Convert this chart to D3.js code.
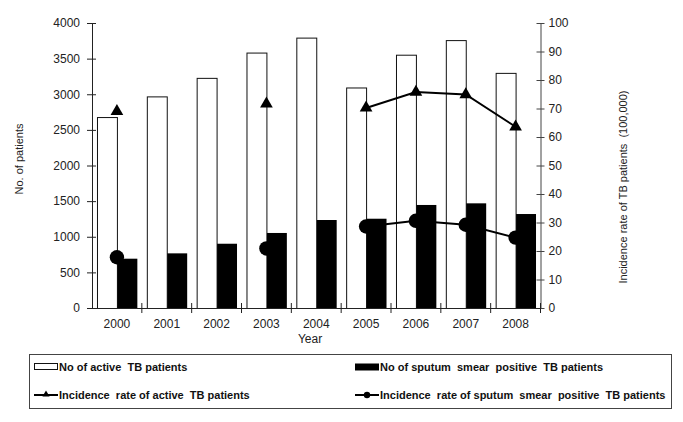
<!DOCTYPE html>
<html>
<head>
<meta charset="utf-8">
<script src="https://cdn.jsdelivr.net/npm/d3@7"></script>
<style>
  body { margin: 0; background: #fff; }
  svg { display: block; font-family: Arial, "Liberation Sans", sans-serif; }
</style>
</head>
<body>
<svg id="chart"></svg>
<script>
const width = 683;
const height = 422;

const years = ["2000", "2001", "2002", "2003", "2004", "2005", "2006", "2007", "2008"];
const activePatients = [2680, 2970, 3230, 3585, 3795, 3095, 3555, 3760, 3300];
const smearPatients = [692, 767, 902, 1053, 1235, 1253, 1446, 1469, 1319];
// incidence per 100,000 (null = no point)
const activeRate = [69, null, null, 71.6, null, 70.2, 75.8, 74.9, 63.6];
const smearRate = [17.8, null, null, 20.9, null, 28.6, 30.6, 29.2, 24.7];
const leftTicks = [0, 500, 1000, 1500, 2000, 2500, 3000, 3500, 4000];
const rightTicks = [0, 10, 20, 30, 40, 50, 60, 70, 80, 90, 100];

const svg = d3.select("#chart").attr("width", width).attr("height", height);

const plotLeft = 92, plotRight = 540.5, plotTop = 23, plotBottom = 308;

const x = d3.scaleBand().domain(years).range([plotLeft, plotRight]).paddingInner(0).paddingOuter(0);
const x1 = d3.scaleBand().domain(["active", "smear"]).range([0, x.bandwidth()])
  .paddingInner(0).paddingOuter(0.25);
const yL = d3.scaleLinear().domain([0, 4000]).range([plotBottom, plotTop]);
const yR = d3.scaleLinear().domain([0, 100]).range([plotBottom, plotTop]);

const rows = years.map((y, i) => ({
  year: y, active: activePatients[i], smear: smearPatients[i],
  aRate: activeRate[i], sRate: smearRate[i]
}));

// Bars
const groups = svg.selectAll(".grp").data(rows).enter().append("g")
  .attr("transform", d => `translate(${x(d.year)},0)`);

groups.append("rect")
  .attr("x", x1("active") + 0.5)
  .attr("y", d => yL(d.active) + 0.5)
  .attr("width", x1.bandwidth())
  .attr("height", d => plotBottom - yL(d.active))
  .attr("fill", "#fff").attr("stroke", "#111").attr("stroke-width", 1);

groups.append("rect")
  .attr("x", x1("smear") + 0.5)
  .attr("y", d => yL(d.smear))
  .attr("width", x1.bandwidth())
  .attr("height", d => plotBottom - yL(d.smear))
  .attr("fill", "#000");

// Axes
const fontFam = "Arial, 'Liberation Sans', sans-serif";
const axL = svg.append("g").attr("transform", `translate(${plotLeft},0)`)
  .call(d3.axisLeft(yL).tickValues(leftTicks).tickFormat(d3.format("d"))
    .tickSizeOuter(0).tickSizeInner(5).tickPadding(7));
axL.selectAll(".tick line").attr("x1", 4);
axL.select(".domain").attr("stroke", "#222");
axL.selectAll(".tick line").attr("stroke", "#222");
axL.selectAll("text").attr("font-size", "12px").attr("fill", "#222").attr("font-family", fontFam);

const axR = svg.append("g").attr("transform", `translate(${plotRight},0)`)
  .call(d3.axisRight(yR).tickValues(rightTicks).tickFormat(d3.format("d"))
    .tickSizeOuter(0).tickSizeInner(4).tickPadding(4));
axR.selectAll(".tick line").attr("x1", -4);
axR.select(".domain").attr("stroke", "#444");
axR.selectAll(".tick line").attr("stroke", "#444");
axR.selectAll("text").attr("font-size", "12px").attr("fill", "#222").attr("font-family", fontFam);

const axX = svg.append("g").attr("transform", `translate(0,${plotBottom})`)
  .call(d3.axisBottom(x).tickSize(0).tickPadding(11));
axX.select(".domain").attr("stroke", "#222");
axX.selectAll("text").attr("font-size", "12px").attr("fill", "#222").attr("font-family", fontFam);
// boundary ticks between years
const bounds = years.slice(1).map(y => x(y)).concat([plotRight]);
axX.selectAll(".bt").data(bounds).enter().append("line")
  .attr("x1", d => d).attr("x2", d => d).attr("y1", -5).attr("y2", 5)
  .attr("stroke", "#222");

// Lines
const lineA = d3.line().defined(d => d.aRate != null)
  .x(d => x(d.year) + x.bandwidth() / 2).y(d => yR(d.aRate));
const lineS = d3.line().defined(d => d.sRate != null)
  .x(d => x(d.year) + x.bandwidth() / 2).y(d => yR(d.sRate));

svg.append("path").datum(rows).attr("d", lineA)
  .attr("fill", "none").attr("stroke", "#000").attr("stroke-width", 2);
svg.append("path").datum(rows).attr("d", lineS)
  .attr("fill", "none").attr("stroke", "#000").attr("stroke-width", 2);

const tri = d3.symbol().type(d3.symbolTriangle).size(70);
svg.selectAll(".tri").data(rows.filter(d => d.aRate != null)).enter().append("path")
  .attr("d", tri)
  .attr("transform", d => `translate(${x(d.year) + x.bandwidth() / 2},${yR(d.aRate)})`)
  .attr("fill", "#000");

svg.selectAll(".dot").data(rows.filter(d => d.sRate != null)).enter().append("circle")
  .attr("cx", d => x(d.year) + x.bandwidth() / 2)
  .attr("cy", d => yR(d.sRate))
  .attr("r", 7.2).attr("fill", "#000");

// Axis titles
svg.append("text").attr("transform", "translate(23,159) rotate(-90)")
  .attr("text-anchor", "middle").attr("font-size", "11px").attr("fill", "#222")
  .text("No. of patients");
svg.append("text").attr("transform", "translate(627,187) rotate(-90)")
  .attr("text-anchor", "middle").attr("font-size", "11px").attr("fill", "#222")
  .style("white-space", "pre")
  .text("Incidence rate of TB patients  (100,000)");
svg.append("text").attr("x", 310).attr("y", 343)
  .attr("text-anchor", "middle").attr("font-size", "12px").attr("fill", "#222")
  .text("Year");

// Legend
const lg = svg.append("g");
lg.append("rect").attr("x", 29.5).attr("y", 354.5).attr("width", 642).attr("height", 54)
  .attr("fill", "#fff").attr("stroke", "#444").attr("stroke-width", 1);

const legendItems = [
  { label: "No of active  TB patients", kind: "white", x: 34, y: 367 },
  { label: "No of sputum  smear  positive  TB patients", kind: "black", x: 355, y: 367 },
  { label: "Incidence  rate of active  TB patients", kind: "tri", x: 34, y: 395 },
  { label: "Incidence  rate of sputum  smear  positive  TB patients", kind: "dot", x: 355, y: 395 }
];

const li = lg.selectAll(".li").data(legendItems).enter().append("g")
  .attr("transform", d => `translate(${d.x},${d.y})`);

li.filter(d => d.kind === "white").append("rect")
  .attr("x", 0.5).attr("y", -3.5).attr("width", 23).attr("height", 6)
  .attr("fill", "#fff").attr("stroke", "#111");
li.filter(d => d.kind === "black").append("rect")
  .attr("x", 0).attr("y", -3.5).attr("width", 24).attr("height", 7)
  .attr("fill", "#000");
li.filter(d => d.kind === "tri" || d.kind === "dot").append("line")
  .attr("x1", 0).attr("x2", 24).attr("y1", 0).attr("y2", 0)
  .attr("stroke", "#000").attr("stroke-width", 2);
li.filter(d => d.kind === "tri").append("path")
  .attr("d", d3.symbol().type(d3.symbolTriangle).size(22)).attr("transform", "translate(12,-0.5)")
  .attr("fill", "#000");
li.filter(d => d.kind === "dot").append("circle")
  .attr("cx", 12).attr("cy", 0).attr("r", 3.2).attr("fill", "#000");

li.append("text").attr("x", 25).attr("y", 4)
  .attr("font-size", "11px").attr("font-weight", "bold").attr("fill", "#111")
  .style("white-space", "pre")
  .text(d => d.label);
</script>
</body>
</html>
